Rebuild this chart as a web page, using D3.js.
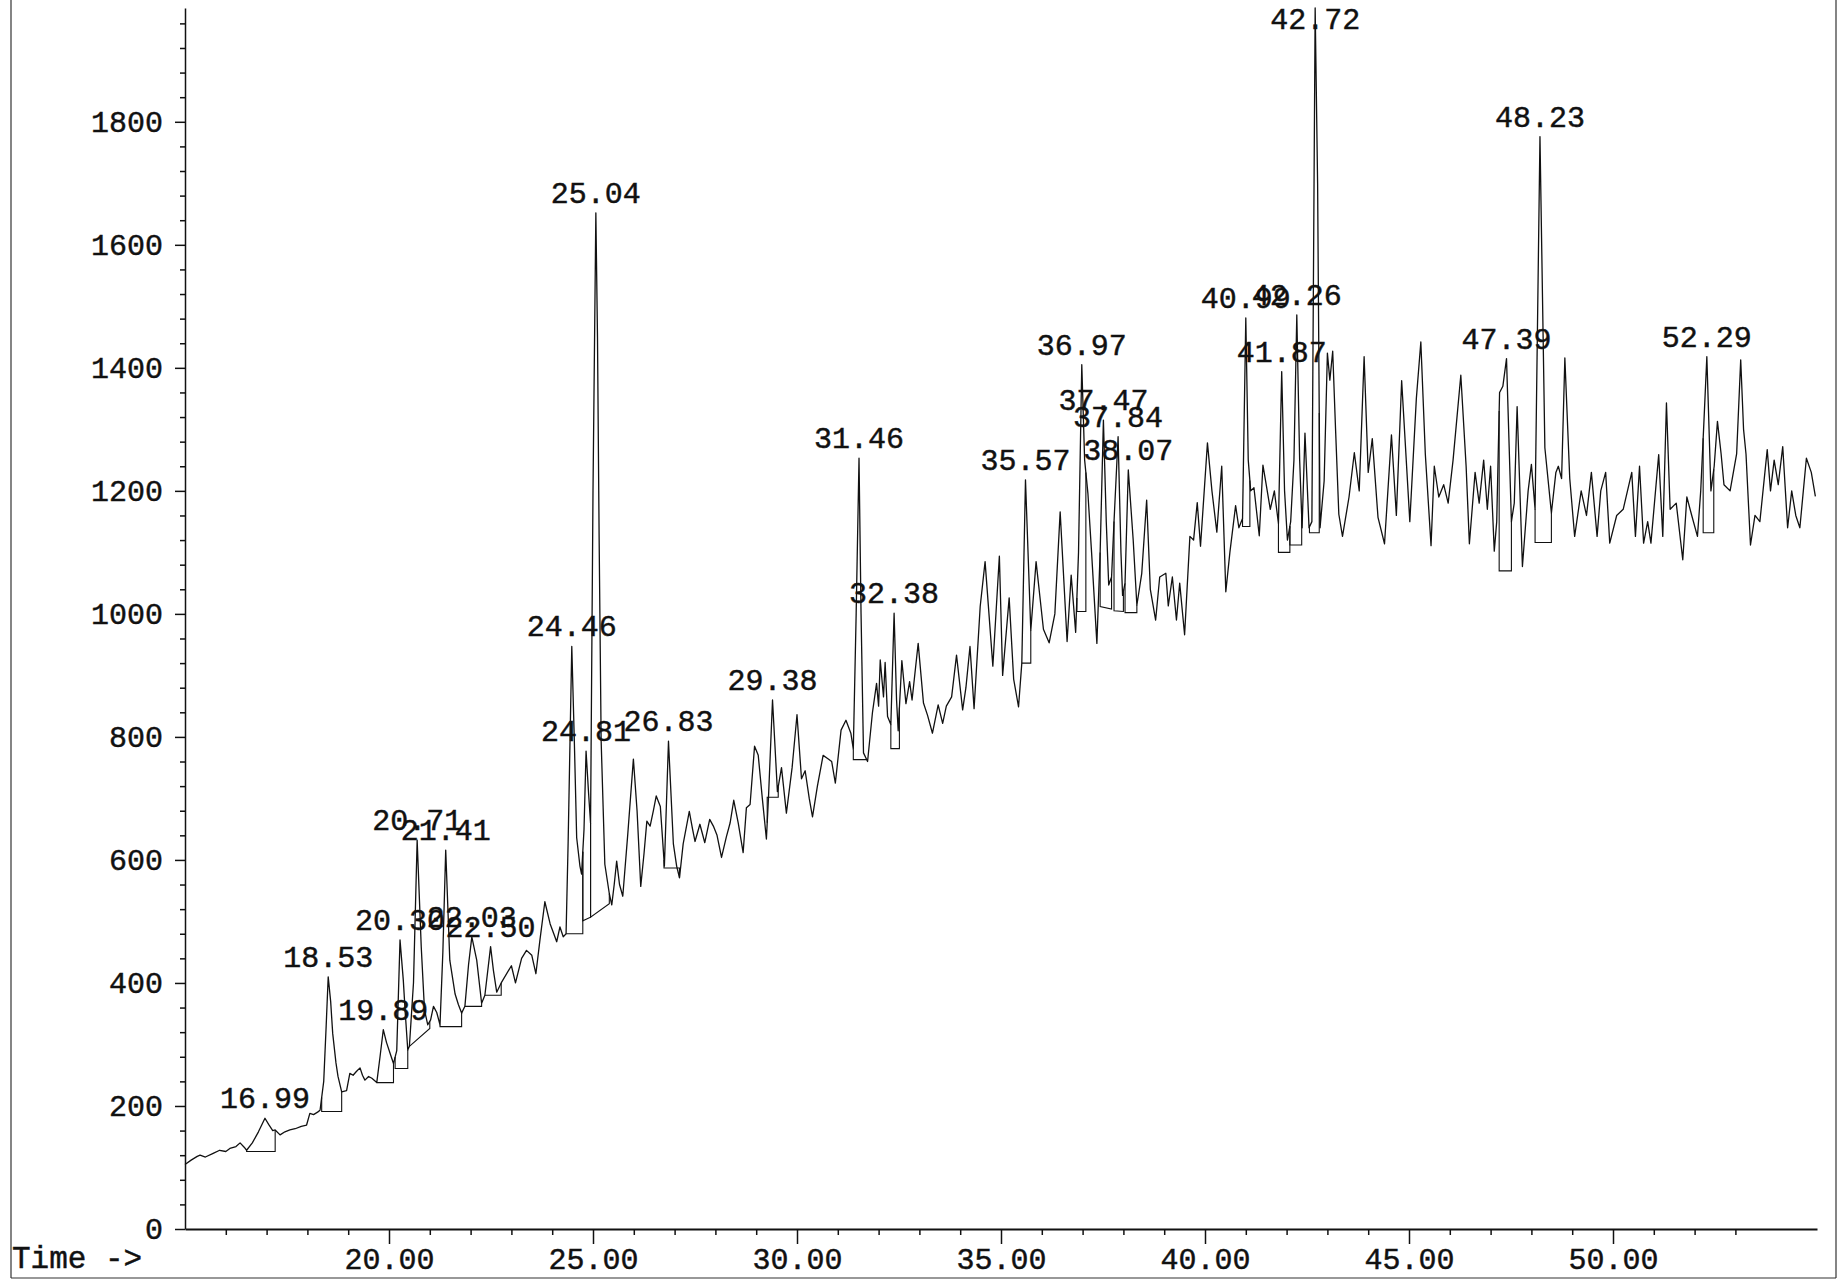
<!DOCTYPE html>
<html><head><meta charset="utf-8">
<script src="https://cdn.jsdelivr.net/npm/d3@7"></script>
<style>
html,body{margin:0;padding:0;background:#fff;}
svg text{font-family:"Liberation Mono","DejaVu Sans Mono",monospace;fill:#111;stroke:#111;stroke-width:0.45px;}
</style></head>
<body>
<script>
// ---- data (retention time in minutes, abundance) ----
const times = [
15.00,15.15,15.30,15.37,15.50,15.69,15.85,16.00,16.10,16.25,16.35,16.45,16.51,16.65,16.80,16.96,17.05,17.15,17.21,17.33,
17.45,17.57,17.70,17.85,17.98,18.06,18.15,18.25,18.31,18.40,18.46,18.51,18.57,18.62,18.70,18.75,18.84,18.96,19.04,19.12,
19.20,19.29,19.35,19.41,19.50,19.58,19.70,19.78,19.86,19.94,20.03,20.11,20.19,20.27,20.35,20.40,20.46,20.50,20.60,20.69,
20.79,20.87,20.95,21.02,21.09,21.17,21.25,21.32,21.39,21.49,21.62,21.70,21.78,21.86,21.95,22.03,22.15,22.27,22.35,22.49,
22.56,22.64,22.75,23.00,23.10,23.25,23.37,23.50,23.60,23.70,23.82,23.95,24.05,24.11,24.19,24.27,24.34,24.39,24.48,24.54,
24.60,24.68,24.72,24.78,24.83,24.89,24.94,25.00,25.07,25.11,25.15,25.20,25.29,25.40,25.46,25.52,25.58,25.65,25.73,25.85,
25.99,26.08,26.17,26.25,26.32,26.40,26.48,26.55,26.65,26.75,26.85,26.97,27.05,27.12,27.21,27.36,27.44,27.50,27.62,27.74,
27.86,27.95,28.04,28.15,28.27,28.36,28.45,28.56,28.68,28.76,28.85,28.96,29.05,29.15,29.25,29.30,29.40,29.52,29.62,29.74,
29.88,30.00,30.11,30.20,30.30,30.38,30.50,30.64,30.75,30.85,30.94,31.08,31.20,31.32,31.38,31.45,31.52,31.57,31.63,31.73,
31.85,31.95,32.00,32.04,32.12,32.16,32.22,32.30,32.38,32.44,32.48,32.57,32.67,32.76,32.82,32.97,33.10,33.20,33.32,33.46,
33.57,33.66,33.79,33.91,34.06,34.14,34.24,34.34,34.49,34.61,34.80,34.96,35.04,35.20,35.31,35.43,35.51,35.60,35.73,35.86,
36.04,36.18,36.32,36.45,36.62,36.72,36.83,36.90,36.98,37.05,37.13,37.22,37.35,37.43,37.51,37.58,37.64,37.71,37.77,37.87,
37.94,37.98,38.04,38.12,38.24,38.33,38.45,38.57,38.66,38.79,38.89,39.04,39.10,39.20,39.30,39.38,39.50,39.63,39.72,39.81,
39.89,40.06,40.17,40.29,40.41,40.51,40.61,40.75,40.83,40.92,41.00,41.06,41.12,41.20,41.33,41.42,41.50,41.60,41.70,41.80,
41.88,41.95,42.02,42.10,42.18,42.25,42.32,42.38,42.45,42.55,42.62,42.70,42.76,42.82,42.92,43.00,43.06,43.13,43.20,43.28,
43.37,43.53,43.66,43.78,43.90,44.00,44.10,44.24,44.40,44.57,44.69,44.82,45.02,45.18,45.29,45.40,45.54,45.62,45.73,45.85,
45.96,46.08,46.27,46.40,46.48,46.62,46.72,46.83,46.92,47.00,47.09,47.15,47.22,47.30,47.39,47.51,47.58,47.65,47.78,47.92,
48.00,48.09,48.21,48.33,48.49,48.60,48.66,48.74,48.82,48.94,49.06,49.22,49.35,49.47,49.61,49.70,49.82,49.92,50.09,50.25,
50.46,50.55,50.65,50.75,50.85,50.93,51.12,51.22,51.31,51.40,51.55,51.71,51.81,51.93,52.07,52.15,52.22,52.30,52.40,52.48,
52.56,52.65,52.72,52.87,53.03,53.13,53.20,53.26,53.37,53.48,53.60,53.78,53.86,53.95,54.05,54.16,54.28,54.38,54.48,54.58,
54.74,54.86,54.96
];
const abundance = [
105,112,118,120,117,123,128,126,131,134,140,133,128,140,158,180,170,160,161,153,
158,161,163,167,169,188,186,190,193,240,330,410,370,318,270,248,223,225,253,250,
256,262,250,242,248,245,238,280,324,303,285,269,290,470,405,350,291,297,400,632,
459,356,332,340,362,352,332,450,616,437,382,365,351,362,430,475,437,367,380,459,
420,385,400,428,400,440,453,445,415,470,532,496,478,467,491,475,480,627,947,800,
636,590,577,650,777,710,660,1200,1652,1450,1125,793,593,545,527,560,598,560,541,640,
764,680,557,610,663,655,680,704,687,590,793,626,590,571,626,679,650,630,658,628,
666,655,640,604,638,660,697,660,612,685,690,785,770,700,634,700,860,711,750,676,
750,836,732,745,700,670,720,770,765,760,725,811,827,806,780,1000,1253,1000,774,760,
840,887,850,925,865,921,833,820,1001,860,810,924,854,890,860,952,855,835,806,852,
822,850,865,933,844,880,947,846,1012,1085,915,1094,900,1026,894,849,920,1218,973,1085,
975,953,1000,1166,955,1063,970,1100,1405,1250,1196,1100,952,1100,1315,1150,1047,1060,1150,1288,
1100,1030,1050,1234,1120,1014,1066,1185,1040,990,1060,1066,1013,1060,990,1050,966,1126,1120,1181,
1110,1278,1200,1133,1240,1036,1100,1176,1140,1155,1481,1250,1200,1205,1127,1242,1210,1170,1200,1147,
1394,1200,1120,1150,1250,1486,1250,1140,1294,1140,1150,1985,1700,1140,1216,1424,1380,1427,1300,1162,
1126,1190,1262,1200,1418,1230,1285,1157,1114,1291,1160,1379,1150,1350,1442,1260,1111,1240,1190,1210,
1180,1250,1388,1240,1114,1230,1180,1250,1170,1240,1102,1150,1360,1370,1415,1150,1180,1337,1077,1200,
1243,1170,1776,1270,1164,1230,1240,1220,1416,1220,1126,1200,1160,1230,1126,1200,1230,1115,1160,1170,
1230,1126,1240,1115,1150,1115,1259,1126,1343,1170,1180,1088,1190,1160,1126,1200,1300,1418,1200,1240,
1313,1260,1210,1200,1260,1413,1300,1260,1112,1160,1150,1267,1200,1250,1210,1272,1140,1200,1160,1140,
1253,1230,1191
];

// integrated peaks: label, baseline start/end (time) and baseline abundance at start/end
const peakLabels  = ["16.99","18.53","19.89","20.30","20.71","21.41","22.03","22.50","24.46","24.81","25.04","26.83","29.38","31.46",
                     "32.38","35.57","36.97","37.47","37.84","38.07","40.99","41.87","42.26","42.72","47.39","48.23","52.29"];
const baseStartT  = [16.51,18.35,19.70,20.15,20.50,21.25,21.86,22.35,24.34,24.75,24.94,26.74,29.27,31.38,
                     32.30,35.51,36.86,37.43,37.77,38.04,40.92,41.80,42.08,42.56,47.21,48.09,52.21];
const baseStartV  = [126,191,238,261,297,329,362,380,480,501,507,587,702,763,
                     781,920,1004,1012,1005,1002,1142,1100,1112,1132,1070,1116,1132];
const baseEndT    = [17.21,18.84,20.11,20.46,21.00,21.78,22.27,22.75,24.75,24.94,25.40,27.12,29.54,31.71,
                     32.51,35.73,37.08,37.71,38.00,38.33,41.10,42.08,42.37,42.80,47.51,48.49,52.47];
const baseEndV    = [126,191,238,261,326,329,362,380,480,507,529,587,702,763,
                     781,920,1004,1008,1004,1002,1142,1100,1112,1132,1070,1116,1132];

const yMajorTicks = [0,200,400,600,800,1000,1200,1400,1600,1800];
const xMajorTicks = [20,25,30,35,40,45,50];
const xAxisTitle = "Time ->";

// ---- drawing ----
const W = 1840, H = 1280;
const svg = d3.select("body").append("svg").attr("width", W).attr("height", H);

const x = d3.scaleLinear().domain([15, 55]).range([185, 1817]);
const y = d3.scaleLinear().domain([0, 1985]).range([1229, 8]);

// page frame
const frame = svg.append("g").attr("stroke", "#333").attr("stroke-width", 1.2);
frame.append("line").attr("x1", 11).attr("x2", 11).attr("y1", 0).attr("y2", 1278);
frame.append("line").attr("x1", 1836).attr("x2", 1836).attr("y1", 0).attr("y2", 1278);
frame.append("line").attr("x1", 11).attr("x2", 1836).attr("y1", 1278).attr("y2", 1278);

const fontSize = 30;

// y axis
const yMinor = d3.range(40, 1961, 40).filter(v => v % 200 !== 0);
const gy = svg.append("g").attr("transform", `translate(${x.range()[0]},0)`);
gy.call(d3.axisLeft(y).tickValues(yMajorTicks).tickSize(10).tickSizeOuter(0).tickPadding(12).tickFormat(d3.format("d")));
gy.append("g").call(d3.axisLeft(y).tickValues(yMinor).tickSize(5).tickSizeOuter(0).tickFormat(""))
  .select(".domain").remove();
gy.selectAll("text").attr("font-size", fontSize).attr("font-family", "Liberation Mono").attr("fill", "#111");
gy.selectAll("path,line").attr("stroke", "#111").attr("stroke-width", 1.5);

// x axis
const xMinor = d3.range(16, 54, 1).filter(v => v % 5 !== 0);
const gx = svg.append("g").attr("transform", `translate(0,${y(0)})`);
gx.call(d3.axisBottom(x).tickValues(xMajorTicks).tickSize(15).tickSizeOuter(0).tickPadding(4).tickFormat(d3.format(".2f")));
gx.append("g").call(d3.axisBottom(x).tickValues(xMinor).tickSize(6).tickSizeOuter(0).tickFormat(""))
  .select(".domain").remove();
gx.selectAll("text").attr("font-size", fontSize).attr("font-family", "Liberation Mono").attr("fill", "#111");
gx.selectAll("line").attr("stroke", "#111").attr("stroke-width", 1.5);
gx.select(".domain").attr("stroke", "#111").attr("stroke-width", 2);

svg.append("text").attr("x", 12).attr("y", 1268).attr("font-size", 31).text(xAxisTitle);

// trace
const data = times.map((t, i) => ({t, v: abundance[i]}));
const line = d3.line().x(d => x(d.t)).y(d => y(d.v));
svg.append("path").datum(data).attr("d", line)
  .attr("fill", "none").attr("stroke", "#111").attr("stroke-width", 1.3).attr("stroke-linejoin", "round");

function traceAt(t) {
  const i = d3.bisectLeft(times, t);
  if (i <= 0) return abundance[0];
  if (i >= times.length) return abundance[times.length - 1];
  const t0 = times[i - 1], t1 = times[i];
  return abundance[i - 1] + (abundance[i] - abundance[i - 1]) * (t - t0) / (t1 - t0);
}

// integration baselines and labels
const peaks = peakLabels.map((lab, i) => {
  const s = baseStartT[i], e = baseEndT[i];
  let best = null;
  data.forEach(d => { if (d.t >= s && d.t <= e && (!best || d.v > best.v)) best = d; });
  return {lab, s, e, sv: baseStartV[i], ev: baseEndV[i], top: best};
});

const gb = svg.append("g").attr("fill", "none").attr("stroke", "#111").attr("stroke-width", 1.1);
peaks.forEach(p => {
  const path = d3.path();
  path.moveTo(x(p.s), y(traceAt(p.s)));
  path.lineTo(x(p.s), y(p.sv));
  path.lineTo(x(p.e), y(p.ev));
  path.lineTo(x(p.e), y(traceAt(p.e)));
  gb.append("path").attr("d", path.toString());
});

svg.append("g").selectAll("text").data(peaks).join("text")
  .attr("x", p => x(p.top.t))
  .attr("y", p => Math.max(y(p.top.v) - 10, 29))
  .attr("text-anchor", "middle")
  .attr("font-size", fontSize)
  .text(p => p.lab);
</script>
</body></html>
